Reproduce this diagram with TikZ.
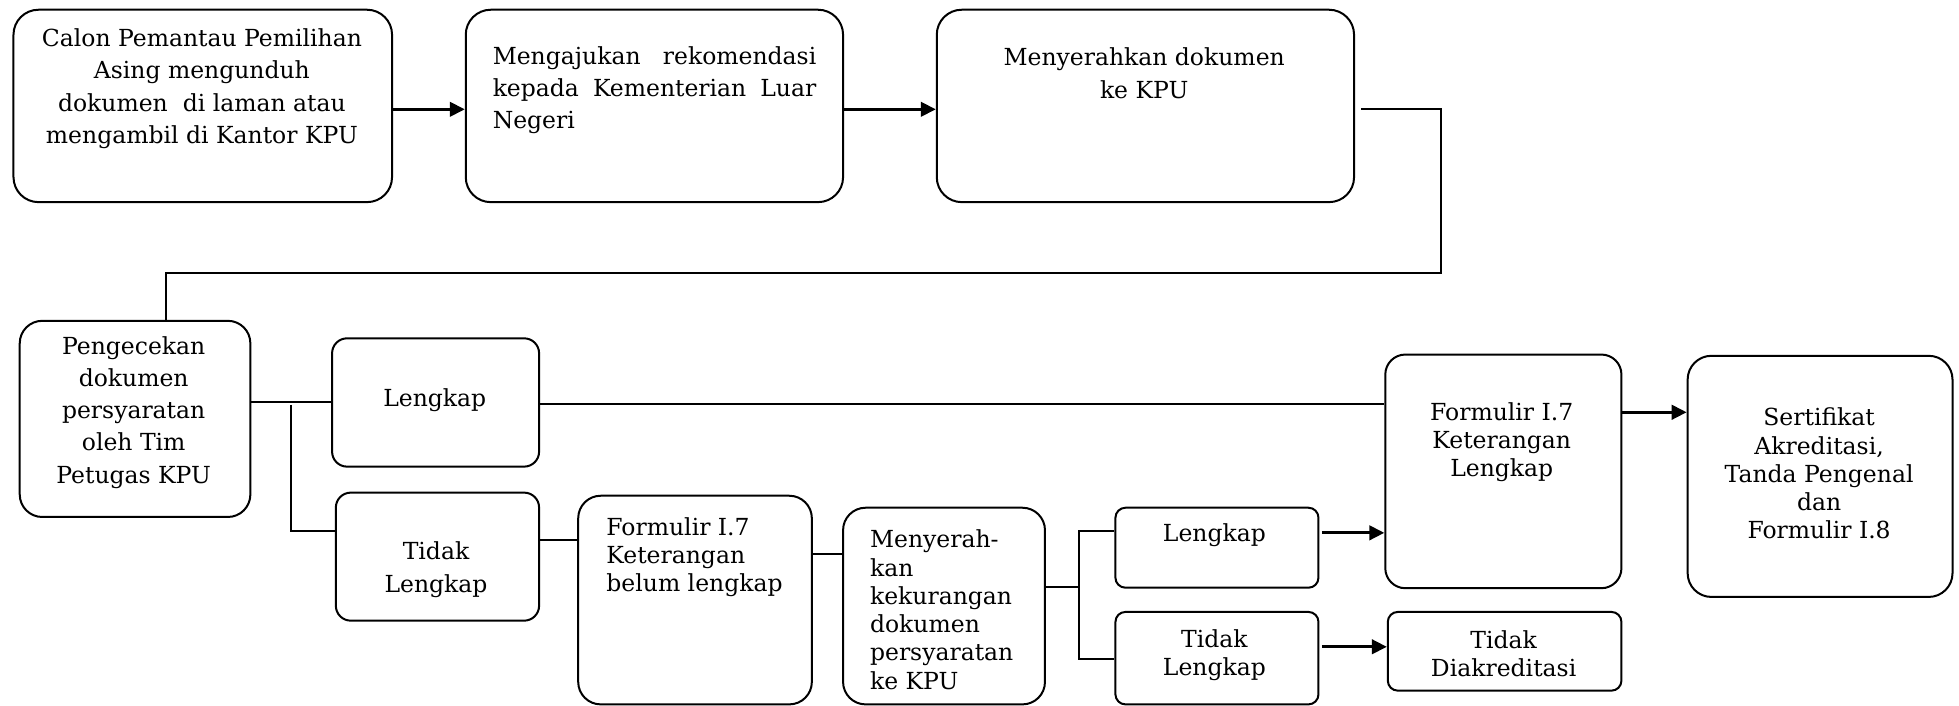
\documentclass[tikz,border=0pt]{standalone}
\usepackage{fontspec}
\setmainfont{DejaVu Serif}
\usetikzlibrary{arrows.meta}
\newcommand\bx[6]{\node[box, rounded corners=#6, minimum width={(#4-#2)*0.5pt}, minimum height={(#5-#3)*0.5pt}, anchor=north west] (#1) at (#2,#3) {};}
\begin{document}
\begin{tikzpicture}[x=0.5pt,y=-0.5pt,
  box/.style={draw, line width=0.8pt, inner sep=0pt},
  txt/.style={inner sep=0pt, font=\fontsize{9.4}{12.9}\selectfont, align=center},
  txts/.style={inner sep=0pt, font=\fontsize{9.4}{11.3}\selectfont, align=center},
  ln/.style={line width=0.8pt},
  arr/.style={line width=1.15pt, -{Triangle[length=6pt,width=5.8pt]}}]
\useasboundingbox (0,0) rectangle (1568,565);
% boxes
\bx{A}{10}{7}{313}{161}{10pt}
\bx{B}{372}{7}{674}{161}{10pt}
\bx{C}{749}{7}{1083}{161}{10pt}
\bx{D}{15}{256}{199.6}{413}{9pt}
\bx{E}{265}{270}{430.7}{372.7}{6pt}
\bx{F}{268}{393.5}{430.7}{496}{6pt}
\bx{H}{462}{396}{649}{563}{9pt}
\bx{I}{674}{405.6}{835.6}{563}{9pt}
\bx{J}{892}{405.6}{1054.5}{469.6}{4pt}
\bx{K}{892}{489}{1054.5}{563}{4pt}
\bx{L}{1110}{489}{1297}{552}{4pt}
\bx{G}{1108}{283}{1297}{470}{8pt}
\bx{M}{1350}{284}{1562}{477}{9.5pt}
% texts
\node[txt] (tA) at (161.6,71) {Calon Pemantau Pemilihan\\Asing mengunduh\\dokumen\ \ di laman atau\\mengambil di Kantor KPU};
\node[txt, align=left, anchor=west] (tB) at (394,72) {\makebox[129.5pt][s]{Mengajukan rekomendasi}\\\makebox[129.5pt][s]{kepada Kementerian Luar}\\Negeri};
\node[txt] (tC) at (915.8,58.7) {Menyerahkan dokumen\\ke KPU};
\node[txt] (tD) at (107,330) {Pengecekan\\dokumen\\persyaratan\\oleh Tim\\Petugas KPU};
\node[txt] (tE) at (348,320) {Lengkap};
\node[txt] (tF) at (349,456) {Tidak\\Lengkap};
\node[txts, align=left, anchor=west] (tH) at (485,446) {Formulir I.7\\Keterangan\\belum lengkap};
\node[txts, align=left, anchor=west] (tI) at (696,488) {Menyerah-\\kan\\kekurangan\\dokumen\\persyaratan\\ke KPU};
\node[txts] (tJ) at (972,428) {Lengkap};
\node[txts] (tK) at (972,524.5) {Tidak\\Lengkap};
\node[txts] (tL) at (1203.5,523) {Tidak\\Diakreditasi};
\node[txts] (tG) at (1202,354) {Formulir I.7\\Keterangan\\Lengkap};
\node[txts] (tM) at (1456,379) {Sertifikat\\Akreditasi,\\Tanda Pengenal\\dan\\Formulir I.8};
% connectors
\draw[arr] ([yshift=-1.35pt]A.east) -- ([yshift=-1.35pt]B.west);
\draw[arr] ([yshift=-1.35pt]B.east) -- ([yshift=-1.35pt]C.west);
\coordinate (c0) at ([xshift=2.5pt,yshift=-1.35pt]C.east);
\coordinate (c1) at (1153,218.5);
\coordinate (c2) at (133,218.5);
\draw[ln] (c0) -| (c1) -- (c2) -- (c2 |- D.north);
\draw[ln] (D.east |- E.west) -- (E.west);
\coordinate (j1) at (233,324);
\coordinate (j2) at (233,424.7);
\draw[ln] (j1) -- (j2) -- (j2 -| F.west);
\draw[ln] (E.east |- 0,323) -- (G.west |- 0,323);
\draw[ln] (F.east |- 0,432) -- (H.west |- 0,432);
\draw[ln] (H.east |- 0,443.6) -- (I.west |- 0,443.6);
\coordinate (j5) at (863.6,469.6);
\coordinate (j3) at (863.6,425);
\coordinate (j4) at (863.6,527.5);
\draw[ln] (I.east |- j5) -- (j5);
\draw[ln] (j3 -| J.west) -- (j3) -- (j4) -- (j4 -| K.west);
\coordinate (ja) at ([xshift=1pt]J.east);
\coordinate (ka) at ([xshift=1pt]K.east);
\draw[arr] (ja |- 0,426.5) -- (G.west |- 0,426.5);
\draw[arr] (ka |- 0,517.7) -- (L.west |- 0,517.7);
\draw[arr] (G.east |- 0,330) -- (M.west |- 0,330);
\end{tikzpicture}
\end{document}
